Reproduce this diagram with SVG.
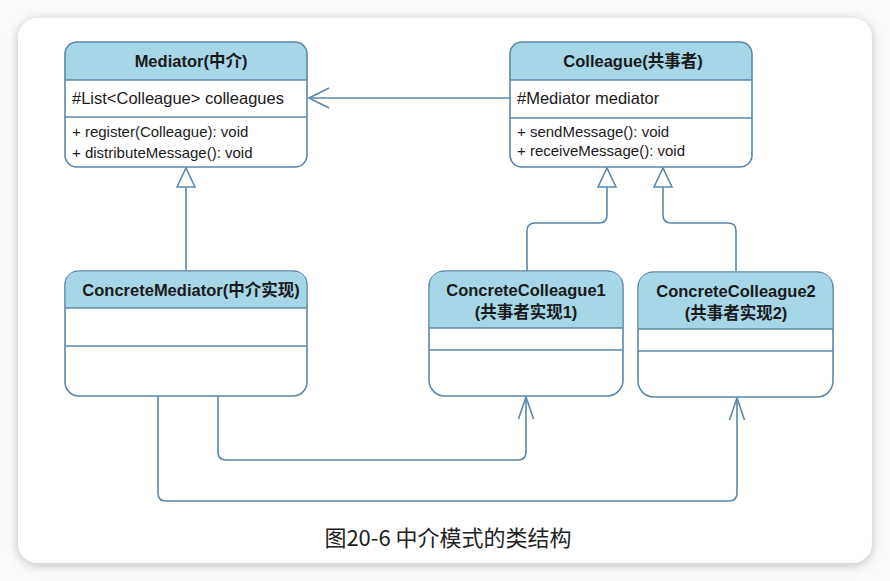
<svg xmlns="http://www.w3.org/2000/svg" width="890" height="581" viewBox="0 0 890 581">
<defs>
<filter id="shadow" x="-5%" y="-5%" width="110%" height="110%">
<feGaussianBlur in="SourceAlpha" stdDeviation="6"/>
<feOffset dx="0" dy="2"/>
<feComponentTransfer><feFuncA type="linear" slope="0.25"/></feComponentTransfer>
<feMerge><feMergeNode/><feMergeNode in="SourceGraphic"/></feMerge>
</filter>
<marker id="tri" viewBox="0 0 21 20" refX="20" refY="10" markerWidth="21" markerHeight="20" markerUnits="userSpaceOnUse" orient="auto">
<path d="M1,1 L20,10 L1,19 Z" fill="#ffffff" stroke="#5b88ab" stroke-width="1.6"/>
</marker>
<marker id="openBig" viewBox="0 0 22 22" refX="21" refY="11" markerWidth="22" markerHeight="22" markerUnits="userSpaceOnUse" orient="auto">
<path d="M1,1 L21,11 L1,21" fill="none" stroke="#5b88ab" stroke-width="1.6"/>
</marker>
<marker id="openSm" viewBox="0 0 24 18" refX="23" refY="9" markerWidth="24" markerHeight="18" markerUnits="userSpaceOnUse" orient="auto">
<path d="M1,1.5 L23,9 L1,16.5" fill="none" stroke="#5b88ab" stroke-width="1.6"/>
</marker>
</defs>
<style>
.box{fill:#ffffff;stroke:#5b88ab;stroke-width:1.6}
.hdr{fill:#a6d7e7}
.div{stroke:#5b88ab;stroke-width:1.5}
.title{font-family:"Liberation Sans","Noto Sans CJK SC",sans-serif;font-weight:bold;font-size:16.5px;fill:#1a1a1a;text-anchor:middle}
.attr{font-family:"Liberation Sans","Noto Sans CJK SC",sans-serif;font-size:16.5px;fill:#1a1a1a}
.meth{font-family:"Liberation Sans","Noto Sans CJK SC",sans-serif;font-size:15px;fill:#1a1a1a}
.conn{fill:none;stroke:#5b88ab;stroke-width:1.6}
.cap{font-family:"Noto Sans CJK SC","Liberation Sans",sans-serif;font-size:22px;fill:#222222;text-anchor:middle}
</style>
<rect x="0" y="0" width="890" height="581" fill="#fbfbfb"/>
<rect x="18" y="18" width="854" height="545" rx="20" ry="20" fill="#ffffff" filter="url(#shadow)"/>

<g id="connectors">
<path class="conn" d="M510,98 H309" marker-end="url(#openBig)"/>
<path class="conn" d="M186,271 V168" marker-end="url(#tri)"/>
<path class="conn" d="M527,271 V231 Q527,223 535,223 H599 Q607,223 607,215 V168" marker-end="url(#tri)"/>
<path class="conn" d="M736,271 V231 Q736,223 728,223 H671 Q663,223 663,215 V168" marker-end="url(#tri)"/>
<path class="conn" d="M218,396 V452 Q218,460 226,460 H518 Q526,460 526,452 V397" marker-end="url(#openSm)"/>
<path class="conn" d="M158,396 V493 Q158,501 166,501 H729 Q737,501 737,493 V398" marker-end="url(#openSm)"/>
</g>

<g id="mediator">
<path class="hdr" d="M65,80 V54 Q65,42 77,42 H295 Q307,42 307,54 V80 Z"/>
<rect class="box" x="65" y="42" width="242" height="125" rx="12" ry="12" style="fill:none"/>
<line class="div" x1="65" y1="80" x2="307" y2="80"/>
<line class="div" x1="65" y1="117" x2="307" y2="117"/>
<text class="title" x="191" y="67">Mediator(中介)</text>
<text class="attr" x="72" y="104">#List&lt;Colleague&gt; colleagues</text>
<text class="meth" x="72" y="137">+ register(Colleague): void</text>
<text class="meth" x="72" y="158">+ distributeMessage(): void</text>
</g>

<g id="colleague">
<path class="hdr" d="M510,80 V54 Q510,42 522,42 H740 Q752,42 752,54 V80 Z"/>
<rect class="box" x="510" y="42" width="242" height="125" rx="12" ry="12" style="fill:none"/>
<line class="div" x1="510" y1="80" x2="752" y2="80"/>
<line class="div" x1="510" y1="118" x2="752" y2="118"/>
<text class="title" x="633" y="67">Colleague(共事者)</text>
<text class="attr" x="517" y="104">#Mediator mediator</text>
<text class="meth" x="517" y="137">+ sendMessage(): void</text>
<text class="meth" x="517" y="156">+ receiveMessage(): void</text>
</g>

<g id="concreteMediator">
<rect class="box" x="65" y="271" width="242" height="125" rx="14" ry="14"/>
<path class="hdr" d="M65.8,308 V285 Q65.8,271.8 79,271.8 H293 Q306.2,271.8 306.2,285 V308 Z"/>
<line class="div" x1="65" y1="308" x2="307" y2="308"/>
<line class="div" x1="65" y1="346" x2="307" y2="346"/>
<text class="title" x="191" y="296">ConcreteMediator(中介实现)</text>
</g>

<g id="concreteColleague1">
<rect class="box" x="429" y="271" width="194" height="125" rx="16" ry="16"/>
<path class="hdr" d="M429.8,328 V287 Q429.8,271.8 445,271.8 H607 Q622.2,271.8 622.2,287 V328 Z"/>
<line class="div" x1="429" y1="328" x2="623" y2="328"/>
<line class="div" x1="429" y1="350" x2="623" y2="350"/>
<text class="title" x="526" y="296">ConcreteColleague1</text>
<text class="title" x="526" y="318">(共事者实现1)</text>
</g>

<g id="concreteColleague2">
<rect class="box" x="638" y="272" width="195" height="125" rx="16" ry="16"/>
<path class="hdr" d="M638.8,329 V288 Q638.8,272.8 654,272.8 H817 Q832.2,272.8 832.2,288 V329 Z"/>
<line class="div" x1="638" y1="329" x2="833" y2="329"/>
<line class="div" x1="638" y1="351" x2="833" y2="351"/>
<text class="title" x="736" y="297">ConcreteColleague2</text>
<text class="title" x="736" y="319">(共事者实现2)</text>
</g>

<text class="cap" x="448" y="546">图20-6 中介模式的类结构</text>
</svg>
